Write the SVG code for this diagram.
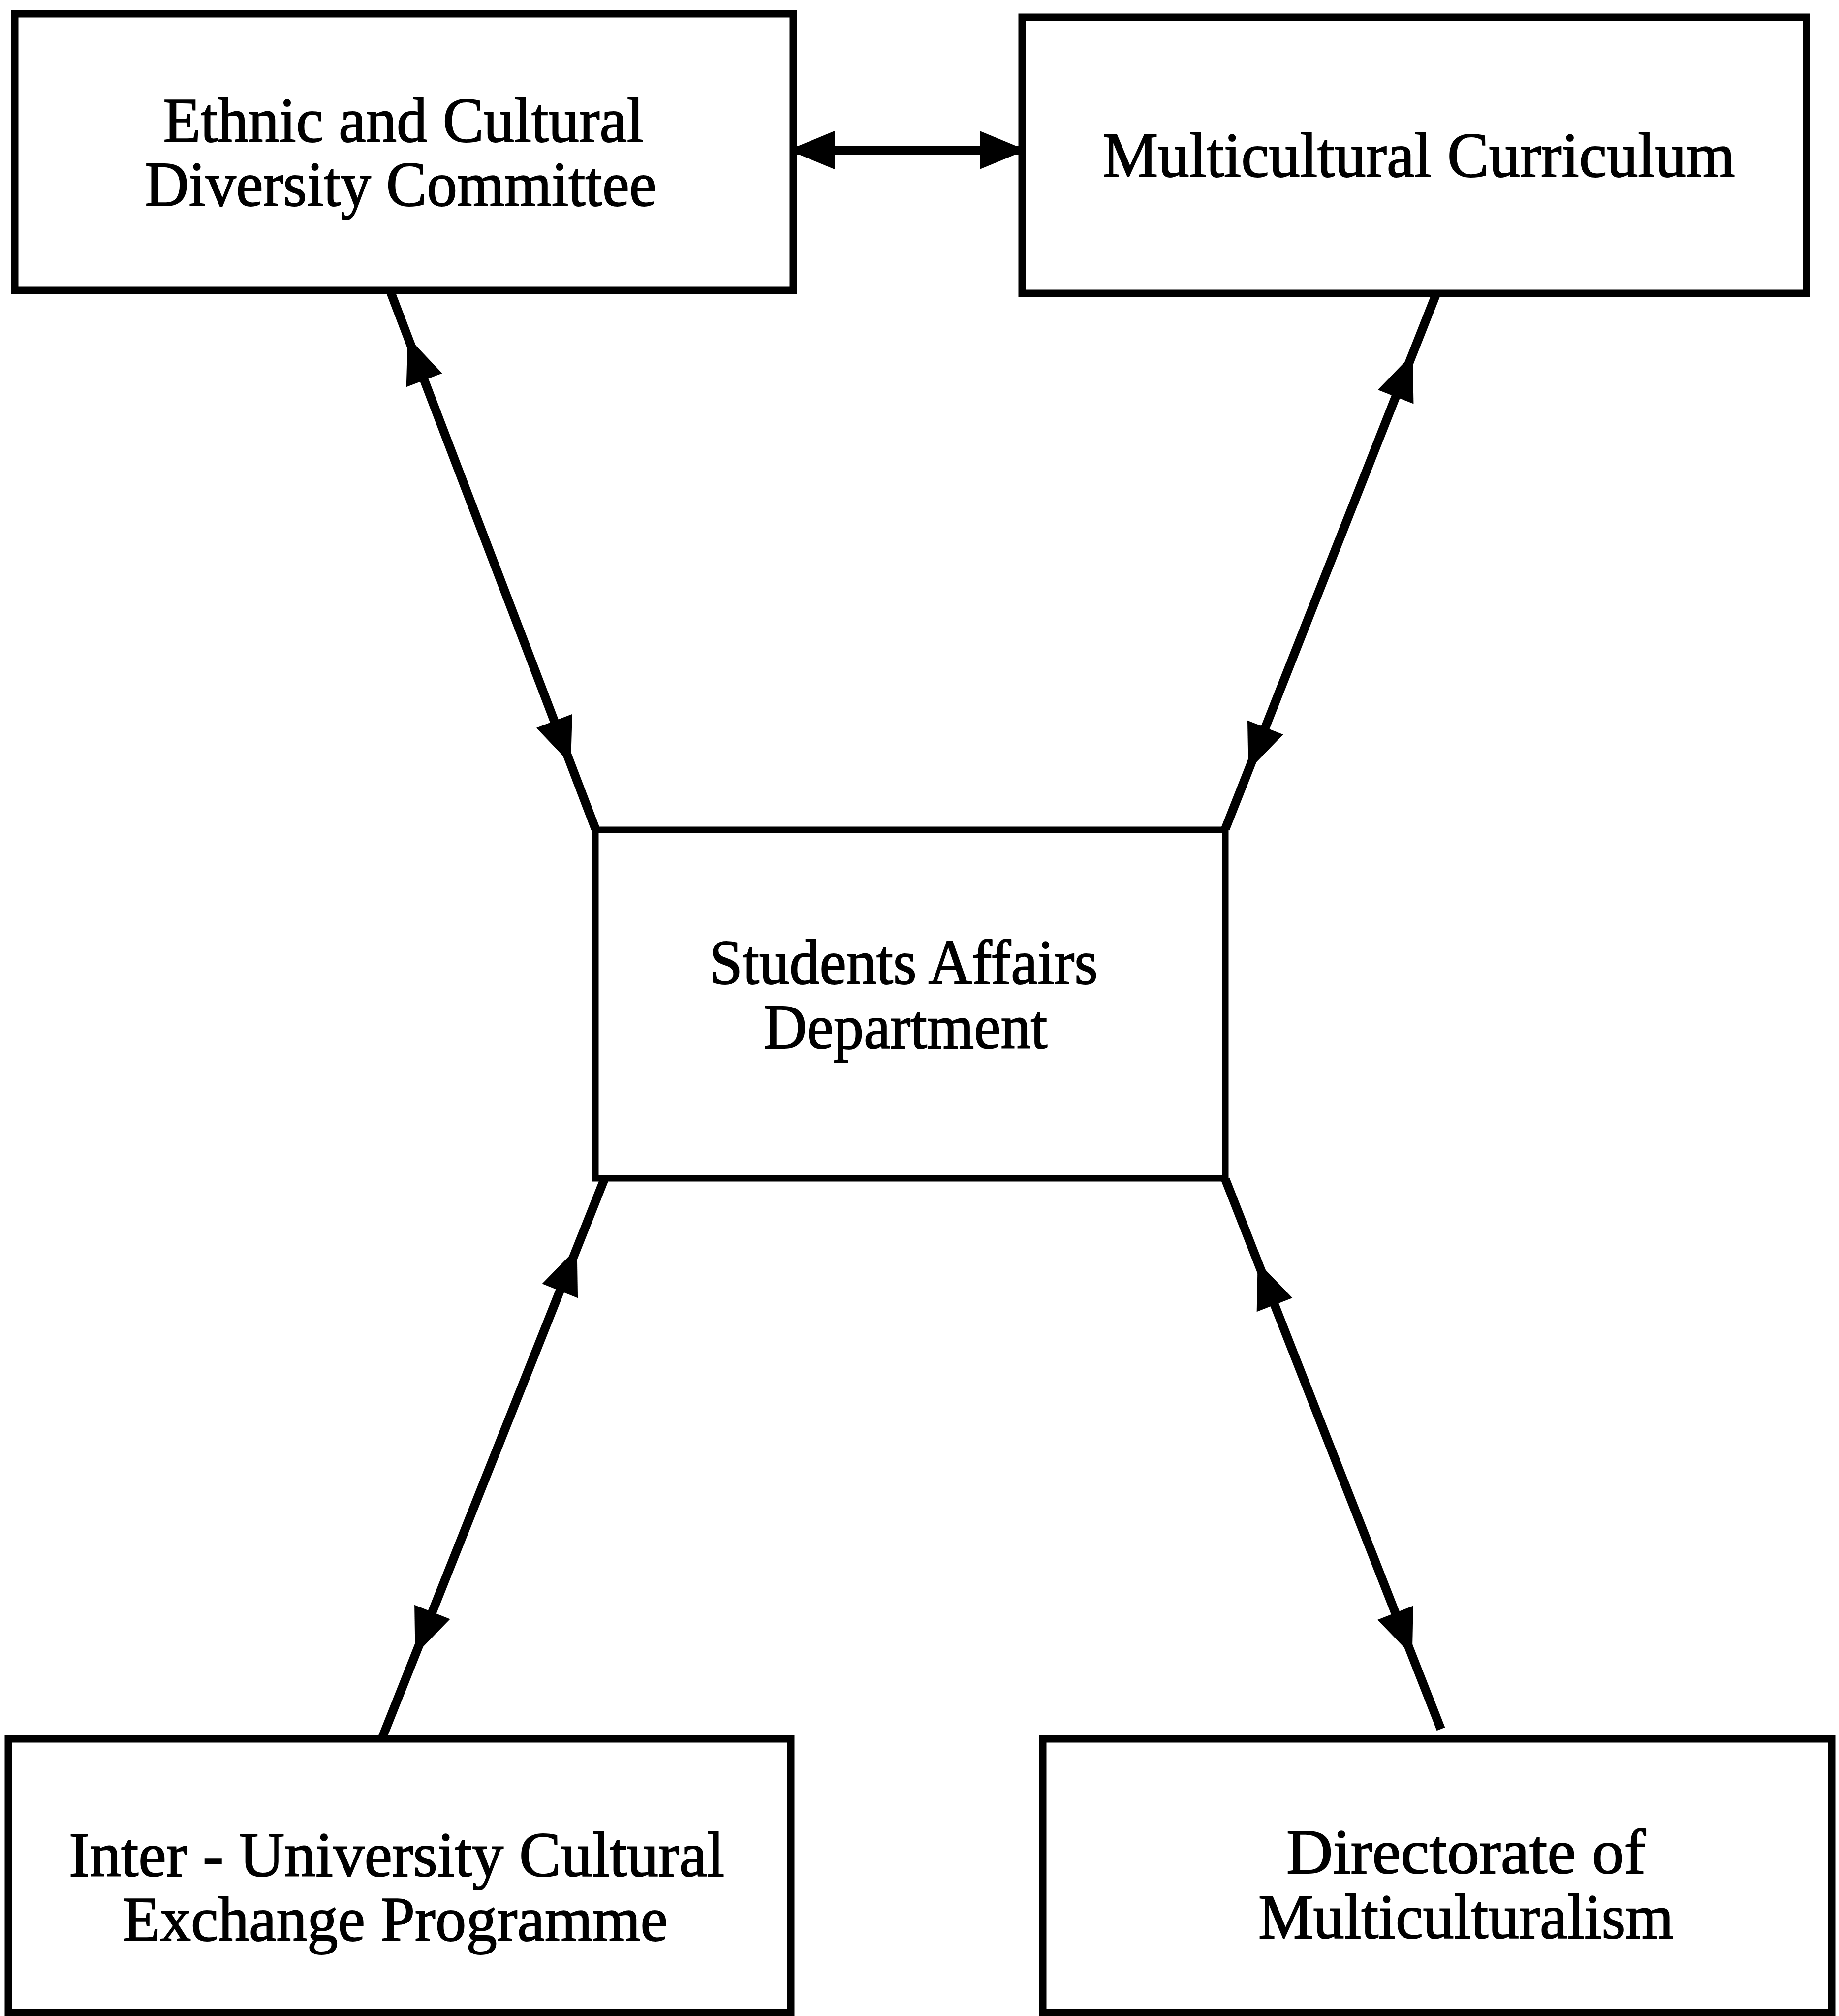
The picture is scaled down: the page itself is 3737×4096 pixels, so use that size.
<svg xmlns="http://www.w3.org/2000/svg" xmlns:xlink="http://www.w3.org/1999/xlink" width="3737" height="4096" viewBox="0 0 3737 4096">
<style>
.box{fill:#fff;stroke:#000;stroke-width:15}
.lbl{font-family:"Liberation Serif","Times New Roman",serif;font-size:129px;fill:#000;stroke:#000;stroke-width:2;text-anchor:middle}
.con{stroke:#000;stroke-width:18;fill:none}
.hd{fill:#000}
</style>
<defs>
<path id="head" class="hd" d="M0,0 L-94,-39 L-94,39 Z"/>
</defs>
<rect width="3737" height="4096" fill="#fff"/>
<g id="connectors">
<line class="con" x1="1602" y1="305" x2="2085" y2="305"/>
<use xlink:href="#head" href="#head" transform="translate(1602,305) rotate(180)"/>
<use xlink:href="#head" href="#head" transform="translate(2085,305)"/>
<line class="con" x1="794" y1="594" x2="1210" y2="1684"/>
<use xlink:href="#head" href="#head" transform="translate(828.6,684.6) rotate(-110.9)"/>
<use xlink:href="#head" href="#head" transform="translate(1159.9,1552.6) rotate(69.1)"/>
<line class="con" x1="2919" y1="596" x2="2490" y2="1684"/>
<use xlink:href="#head" href="#head" transform="translate(2870.6,718.8) rotate(-68.5)"/>
<use xlink:href="#head" href="#head" transform="translate(2536.8,1565.4) rotate(111.5)"/>
<line class="con" x1="1228" y1="2396" x2="777" y2="3530"/>
<use xlink:href="#head" href="#head" transform="translate(1172.6,2535.4) rotate(-68.3)"/>
<use xlink:href="#head" href="#head" transform="translate(843.6,3362.4) rotate(111.7)"/>
<line class="con" x1="2490" y1="2396" x2="2928" y2="3513"/>
<use xlink:href="#head" href="#head" transform="translate(2555.7,2563.6) rotate(-111.4)"/>
<use xlink:href="#head" href="#head" transform="translate(2869.7,3364.2) rotate(68.6)"/>
</g>
<g id="node-ethnic">
<rect class="box" x="30" y="28" width="1582" height="562"/>
<text class="lbl" x="820" y="288" textLength="977" lengthAdjust="spacingAndGlyphs">Ethnic and Cultural</text>
<text class="lbl" x="814" y="418" textLength="1039" lengthAdjust="spacingAndGlyphs">Diversity Committee</text>
</g>
<g id="node-curriculum">
<rect class="box" x="2077" y="35" width="1594" height="561"/>
<text class="lbl" x="2883" y="359" textLength="1285" lengthAdjust="spacingAndGlyphs">Multicultural Curriculum</text>
</g>
<g id="node-students">
<rect class="box" x="1210" y="1686" width="1280" height="708" style="stroke-width:13"/>
<text class="lbl" x="1836" y="1999" textLength="790" lengthAdjust="spacingAndGlyphs">Students Affairs</text>
<text class="lbl" x="1840" y="2130" textLength="577" lengthAdjust="spacingAndGlyphs">Department</text>
</g>
<g id="node-exchange">
<rect class="box" x="17" y="3533" width="1590" height="556"/>
<text class="lbl" x="806" y="3812" textLength="1332" lengthAdjust="spacingAndGlyphs">Inter - University Cultural</text>
<text class="lbl" x="803" y="3943" textLength="1108" lengthAdjust="spacingAndGlyphs">Exchange Programme</text>
</g>
<g id="node-directorate">
<rect class="box" x="2119" y="3533" width="1603" height="556"/>
<text class="lbl" x="2979" y="3806" textLength="730" lengthAdjust="spacingAndGlyphs">Directorate of</text>
<text class="lbl" x="2979" y="3938" textLength="844" lengthAdjust="spacingAndGlyphs">Multiculturalism</text>
</g>
</svg>
